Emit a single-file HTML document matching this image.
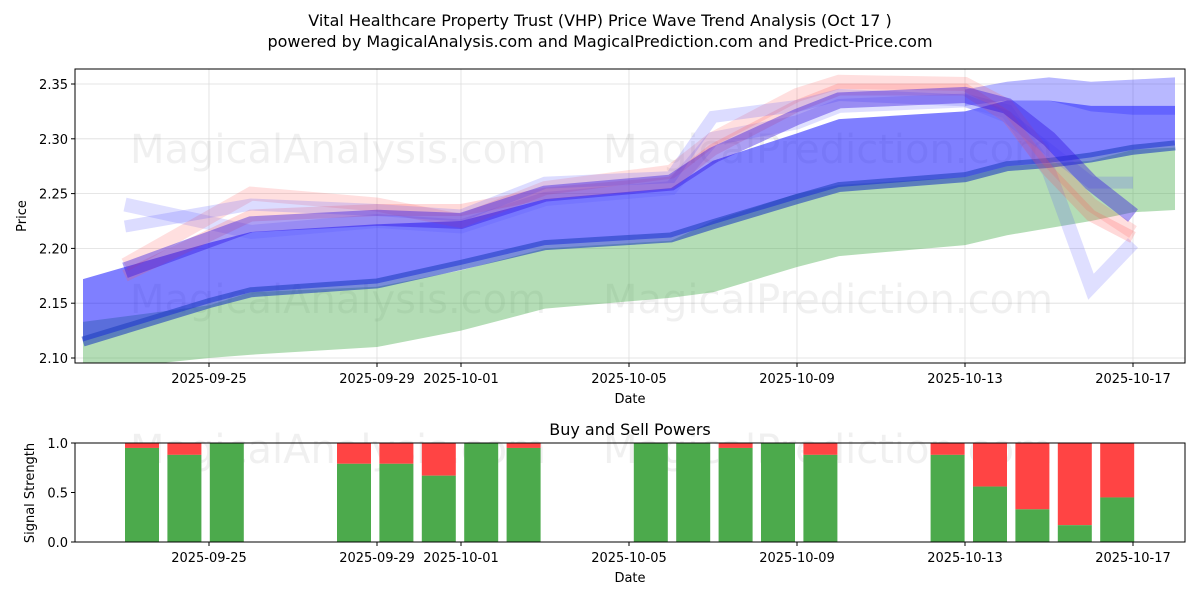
<!DOCTYPE html>
<html><head><meta charset="utf-8"><style>
body{margin:0;background:#fff;font-family:"Liberation Sans","DejaVu Sans",sans-serif}
svg text{font-family:"DejaVu Sans","Liberation Sans",sans-serif}
</style></head><body>
<svg id="c" width="1200" height="600" xmlns="http://www.w3.org/2000/svg">
<rect width="1200" height="600" fill="#fff"/>
<text x="600" y="26" font-size="16" text-anchor="middle">Vital Healthcare Property Trust (VHP) Price Wave Trend Analysis (Oct 17 )</text>
<text x="600" y="47" font-size="16" text-anchor="middle">powered by MagicalAnalysis.com and MagicalPrediction.com and Predict-Price.com</text>
<defs><clipPath id="clipTop"><rect x="75" y="69" width="1110" height="294"/></clipPath></defs>
<g id="top"></g>
<g id="bot"></g>
</svg>
<script>
// ---- data ----
const greenDates=["2025-09-22","2025-09-25","2025-09-26","2025-09-29","2025-10-01","2025-10-03","2025-10-06","2025-10-07","2025-10-09","2025-10-10","2025-10-13","2025-10-14","2025-10-16","2025-10-17","2025-10-18"];
const greenUpper=[2.133,2.148,2.16,2.165,2.18,2.2,2.207,2.225,2.25,2.258,2.265,2.275,2.28,2.29,2.292];
const greenLower=[2.088,2.1,2.103,2.11,2.125,2.145,2.155,2.16,2.183,2.193,2.203,2.212,2.225,2.233,2.235];
const blueDates=["2025-09-22","2025-09-25","2025-09-26","2025-09-29","2025-10-01","2025-10-03","2025-10-06","2025-10-07","2025-10-09","2025-10-10","2025-10-13","2025-10-14","2025-10-15","2025-10-16","2025-10-17","2025-10-18"];
const blueLower=[2.115,2.15,2.16,2.168,2.185,2.203,2.21,2.222,2.245,2.256,2.265,2.275,2.278,2.283,2.29,2.294];
const blueUpper=[2.172,2.205,2.215,2.222,2.225,2.245,2.255,2.28,2.305,2.318,2.325,2.335,2.335,2.33,2.33,2.33];
const waveDates=["2025-09-23","2025-09-26","2025-09-29","2025-10-01","2025-10-03","2025-10-06","2025-10-07","2025-10-09","2025-10-10","2025-10-13","2025-10-14","2025-10-15","2025-10-16","2025-10-17"];
const waveBlue1=[2.18,2.222,2.228,2.225,2.25,2.26,2.285,2.32,2.335,2.34,2.33,2.3,2.26,2.23];
const waveBlue2=[2.24,2.215,2.225,2.22,2.245,2.255,2.3,2.315,2.33,2.335,2.325,2.27,2.165,2.205];
const waveBlue3=[2.22,2.24,2.235,2.23,2.26,2.265,2.32,2.33,2.34,2.335,2.32,2.29,2.26,2.26];
const waveRed1=[2.185,2.25,2.24,2.225,2.255,2.27,2.3,2.34,2.352,2.35,2.33,2.28,2.24,2.215];
const waveRed2=[2.175,2.23,2.235,2.235,2.25,2.26,2.29,2.33,2.345,2.345,2.32,2.27,2.23,2.21];
const upDates=["2025-10-13","2025-10-14","2025-10-15","2025-10-16","2025-10-17","2025-10-18"];
const upUpper=[2.345,2.352,2.356,2.352,2.354,2.356];
const upLower=[2.33,2.335,2.335,2.325,2.322,2.322];
const barDates=["2025-09-24","2025-09-25","2025-09-26","2025-09-29","2025-09-30","2025-10-01","2025-10-02","2025-10-03","2025-10-06","2025-10-07","2025-10-08","2025-10-09","2025-10-10","2025-10-13","2025-10-14","2025-10-15","2025-10-16","2025-10-17"];
const buyPower=[0.95,0.88,1.0,0.79,0.79,0.67,1.0,0.95,1.0,1.0,0.95,1.0,0.88,0.88,0.56,0.33,0.17,0.45];
const xTicks=["2025-09-25","2025-09-29","2025-10-01","2025-10-05","2025-10-09","2025-10-13","2025-10-17"];
const yTicks=[2.10,2.15,2.20,2.25,2.30,2.35];
const sTicks=[0,0.5,1.0];
// ---- scales ----
const NS="http://www.w3.org/2000/svg";
const base=Date.UTC(2025,8,22);
function day(s){const p=s.split("-");return (Date.UTC(+p[0],+p[1]-1,+p[2])-base)/864e5;}
function xs(s){return 83+42*day(s);}
function xb(s){return 142+42.4*(day(s)-2);}
function ys(v){return 358-(v-2.10)*1096;}
function yb(v){return 542-v*99;}
function el(tag,attrs,parent){const e=document.createElementNS(NS,tag);for(const k in attrs)e.setAttribute(k,attrs[k]);parent.appendChild(e);return e;}
const topG=document.getElementById("top"),bot=document.getElementById("bot");
function wm(x,y,t,p){const e=el("text",{x:x,y:y,"font-size":40,fill:"#000","fill-opacity":0.06},p);e.textContent=t;

}
yTicks.forEach(v=>{const y=ys(v);const g=el("line",{x1:75,x2:1185,y1:y,y2:y,stroke:"#ddd","stroke-width":0.8},topG);


el("line",{x1:71,x2:75,y1:y,y2:y,stroke:"#000"},topG);
const t=el("text",{x:68,y:y+5,"font-size":13,"text-anchor":"end"},topG);t.textContent=v.toFixed(2);

});
xTicks.forEach(d=>{const x=xs(d);el("line",{x1:x,x2:x,y1:69,y2:363,stroke:"#ddd","stroke-width":0.8},topG);
el("line",{x1:x,x2:x,y1:363,y2:367,stroke:"#000"},topG);
const t=el("text",{x:x,y:383,"font-size":13,"text-anchor":"middle"},topG);t.textContent=d;

});
wm(130,163,"MagicalAnalysis.com",topG);wm(603,163,"MagicalPrediction.com",topG);
wm(130,313,"MagicalAnalysis.com",topG);wm(603,313,"MagicalPrediction.com",topG);
const plot=el("g",{"clip-path":"url(#clipTop)"},topG);
function band(dates,up,lo,fill,op,name){let d="M"+dates.map((s,i)=>xs(s)+","+ys(up[i])).join("L");
for(let i=dates.length-1;i>=0;i--)d+="L"+xs(dates[i])+","+ys(lo[i]);
const p=el("path",{d:d+"Z",fill:fill,"fill-opacity":op},plot);

}
function line(dates,vals,color,op,w,name){const p=el("polyline",{points:dates.map((s,i)=>xs(s)+","+ys(vals[i])).join(" "),fill:"none",stroke:color,"stroke-opacity":op,"stroke-width":w,"stroke-linejoin":"miter","stroke-linecap":"butt"},plot);

}
band(greenDates,greenUpper,greenLower,"#4caf50",0.42,"green-band");
band(blueDates,blueUpper,blueLower,"#0000ff",0.5,"blue-band");
band(upDates,upUpper,upLower,"#3333ff",0.35,"upper-right-band");
line(blueDates,blueLower,"#2040c0",0.6,10,"lower-trend-line");
line(waveDates,waveBlue2,"#5050ff",0.18,14,"wave-blue-2");
line(waveDates,waveRed1,"#ff5050",0.18,14,"wave-red-1");
line(waveDates,waveRed2,"#ff5050",0.22,12,"wave-red-2");
line(waveDates,waveBlue3,"#5050ff",0.2,12,"wave-blue-3");
line(waveDates,waveBlue1,"#3010e0",0.4,16,"wave-blue-1");
el("rect",{x:75,y:69,width:1110,height:294,fill:"none",stroke:"#000","stroke-width":1},topG);
let tt=el("text",{x:630,y:403,"font-size":13,"text-anchor":"middle"},topG);tt.textContent="Date";

tt=el("text",{x:26,y:216,"font-size":13,"text-anchor":"middle",transform:"rotate(-90 26 216)"},topG);tt.textContent="Price";

tt=el("text",{x:630,y:435,"font-size":16,"text-anchor":"middle"},bot);tt.textContent="Buy and Sell Powers";

wm(130,463,"MagicalAnalysis.com",bot);wm(603,463,"MagicalPrediction.com",bot);
barDates.forEach((d,i)=>{const x=xb(d)-17;
const r=el("rect",{x:x,y:yb(1),width:34,height:yb(buyPower[i])-yb(1),fill:"#ff4444"},bot);

const g=el("rect",{x:x,y:yb(buyPower[i]),width:34,height:542-yb(buyPower[i]),fill:"#4caa4c"},bot);
});
el("rect",{x:75,y:443,width:1110,height:99,fill:"none",stroke:"#000"},bot);
sTicks.forEach(v=>{const y=yb(v);el("line",{x1:71,x2:75,y1:y,y2:y,stroke:"#000"},bot);
const t=el("text",{x:68,y:y+5,"font-size":13,"text-anchor":"end"},bot);t.textContent=v.toFixed(1);
});
xTicks.forEach(d=>{const x=xs(d);el("line",{x1:x,x2:x,y1:542,y2:546,stroke:"#000"},bot);
const t=el("text",{x:x,y:562,"font-size":13,"text-anchor":"middle"},bot);t.textContent=d;
});
tt=el("text",{x:630,y:582,"font-size":13,"text-anchor":"middle"},bot);tt.textContent="Date";

tt=el("text",{x:34,y:493,"font-size":13,"text-anchor":"middle",transform:"rotate(-90 34 493)"},bot);tt.textContent="Signal Strength";

</script>
</body></html>
